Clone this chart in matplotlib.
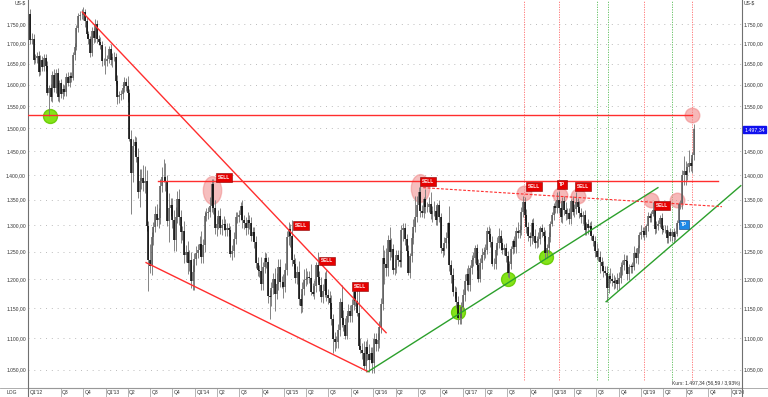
import numpy as np
import pandas as pd
import matplotlib
matplotlib.use('Agg')
import matplotlib.pyplot as plt
import matplotlib.dates as mdates
from matplotlib.path import Path
from matplotlib.transforms import Affine2D
from matplotlib.ticker import NullLocator

plt.rcParams['font.family'] = ['Liberation Sans', 'DejaVu Sans']

# gold, weekly candles, US-$ -- first week starts Mon 2012-02-27
first_open = 1775
close_2012 = [1710, 1711, 1659, 1663, 1668, 1631, 1660, 1642, 1663, 1644, 1580, 1592, 1572,
              1622, 1591, 1627, 1572, 1604, 1578, 1590, 1583, 1619, 1604, 1620, 1616, 1671, 1692,
              1740, 1770, 1773, 1772, 1780, 1757, 1724, 1712, 1676, 1731, 1714, 1751, 1712,
              1705, 1697, 1657, 1656]
up_2012 = [15, 15, 12, 12, 10, 14, 12, 10, 12, 10, 12, 8, 10, 10, 15, 10, 12, 8, 10, 12, 10, 8,
           10, 10, 10, 8, 10, 8, 8, 10, 15, 15, 8, 12, 8, 8, 10, 8, 12, 8, 10, 12, 10, 8]
dn_2012 = [12, 10, 10, 8, 12, 10, 8, 10, 10, 12, 5, 53, 10, 12, 8, 10, 10, 12, 10, 12, 10, 10,
           8, 10, 10, 6, 12, 8, 10, 10, 8, 12, 15, 10, 12, 10, 8, 12, 10, 10, 8, 10, 12, 10]

close_2013 = [1656, 1662, 1687, 1658, 1667, 1667, 1609, 1572, 1576, 1577, 1592, 1607, 1596,
              1580, 1476, 1405, 1462, 1470, 1437, 1365, 1387, 1393, 1383, 1388, 1298, 1234,
              1223, 1277, 1296, 1322, 1310, 1313, 1377, 1396, 1396, 1387, 1308, 1333, 1339,
              1310, 1272, 1315, 1352, 1315, 1286, 1288, 1244, 1250, 1230, 1234, 1197, 1213]
up_2013 = [39, 10, 8, 12, 10, 12, 10, 15, 10, 10, 12, 10, 8, 25, 10, 20, 15, 12, 10, 20, 25, 20,
           28, 30, 22, 10, 30, 10, 10, 15, 20, 20, 15, 20, 37, 29, 12, 30, 15, 15, 20, 20, 15,
           20, 15, 10, 20, 12, 20, 20, 15, 12]
dn_2013 = [30, 12, 10, 10, 15, 10, 8, 18, 15, 12, 10, 10, 12, 20, 5, 84, 20, 20, 10, 12, 30, 15,
           15, 20, 10, 54, 12, 15, 15, 10, 12, 15, 10, 12, 10, 20, 10, 40, 15, 15, 20, 20, 10,
           15, 20, 15, 15, 12, 20, 15, 12, 15]

close_2014 = [1237, 1248, 1254, 1264, 1240, 1262, 1318, 1323, 1326, 1338, 1382, 1334, 1294,
              1303, 1318, 1294, 1301, 1302, 1290, 1294, 1291, 1245, 1252, 1274, 1316, 1316,
              1320, 1337, 1310, 1305, 1294, 1310, 1305, 1280, 1287, 1268, 1230, 1216, 1215,
              1192, 1222, 1238, 1231, 1171, 1169, 1185, 1201, 1175, 1192, 1222, 1196, 1195]
up_2014 = [10, 12, 10, 15, 25, 12, 10, 10, 10, 17, 10, 10, 15, 10, 12, 15, 10, 15, 10, 10, 10, 8,
           10, 12, 10, 10, 10, 8, 12, 10, 10, 15, 10, 10, 10, 10, 12, 10, 10, 25, 10, 12, 10, 10,
           10, 10, 10, 20, 20, 15, 15, 10]
dn_2014 = [31, 12, 10, 12, 10, 10, 12, 10, 12, 10, 12, 12, 10, 15, 10, 10, 12, 10, 10, 10, 12, 5,
           10, 12, 10, 12, 10, 10, 15, 12, 12, 10, 12, 10, 10, 12, 10, 10, 10, 10, 10, 10, 10, 12,
           38, 15, 10, 30, 10, 10, 10, 10]

close_2015 = [1187, 1217, 1277, 1293, 1279, 1234, 1228, 1203, 1213, 1165, 1153, 1183, 1199,
              1201, 1205, 1203, 1178, 1175, 1188, 1225, 1205, 1190, 1169, 1179, 1201, 1173,
              1167, 1158, 1132, 1098, 1094, 1094, 1113, 1160, 1134, 1121, 1103, 1137, 1145,
              1137, 1156, 1177, 1163, 1142, 1088, 1081, 1076, 1056, 1086, 1075, 1065, 1076]
up_2015 = [15, 12, 12, 14, 10, 30, 12, 10, 10, 20, 10, 12, 20, 20, 10, 10, 25, 15, 10, 7, 25, 10,
           15, 12, 12, 15, 10, 12, 15, 8, 12, 10, 10, 8, 30, 12, 12, 5, 12, 10, 10, 14, 15, 30,
           50, 12, 12, 20, 10, 12, 15, 10]
dn_2015 = [20, 10, 10, 15, 20, 10, 10, 10, 12, 10, 12, 10, 10, 10, 10, 10, 5, 5, 10, 10, 10, 10,
           8, 10, 10, 10, 10, 10, 10, 21, 15, 10, 10, 10, 15, 10, 5, 5, 10, 10, 10, 10, 10, 5,
           5, 5, 10, 5, 10, 10, 19, 5]

close_2016 = [1060, 1098, 1090, 1097, 1118, 1157, 1239, 1227, 1221, 1271, 1250, 1255, 1217,
              1221, 1243, 1234, 1232, 1290, 1294, 1273, 1252, 1212, 1242, 1275, 1297, 1316,
              1340, 1366, 1328, 1323, 1351, 1336, 1336, 1341, 1321, 1327, 1328, 1310, 1339, 1316,
              1257, 1251, 1267, 1276, 1304, 1225, 1208, 1178, 1177, 1160, 1134, 1133, 1152]
up_2016 = [10, 10, 10, 12, 10, 10, 24, 15, 30, 10, 25, 20, 10, 15, 10, 10, 20, 10, 10, 10, 10,
           10, 5, 10, 15, 42, 18, 9, 12, 12, 5, 20, 10, 15, 25, 10, 20, 10, 5, 10, 8, 10, 10, 10,
           3, 34, 10, 12, 10, 10, 10, 10, 8]
dn_2016 = [15, 15, 10, 10, 12, 10, 10, 35, 15, 15, 15, 10, 8, 10, 10, 10, 10, 10, 20, 10, 10, 5,
           10, 10, 10, 10, 10, 10, 12, 8, 10, 12, 10, 10, 10, 15, 10, 10, 10, 10, 10, 10, 8, 10,
           10, 10, 15, 7, 10, 10, 11, 10, 10]

close_2017 = [1173, 1197, 1210, 1190, 1220, 1234, 1239, 1257, 1226, 1201, 1229, 1244, 1249,
              1254, 1288, 1284, 1268, 1228, 1228, 1254, 1267, 1280, 1266, 1254, 1256, 1242,
              1212, 1228, 1255, 1269, 1258, 1289, 1285, 1291, 1325, 1346, 1320, 1297, 1280,
              1275, 1304, 1280, 1266, 1269, 1274, 1294, 1287, 1280, 1248, 1257, 1278, 1303]
up_2017 = [10, 12, 10, 15, 5, 10, 10, 6, 8, 10, 10, 12, 10, 10, 8, 10, 10, 12, 10, 8, 10, 15, 10,
           10, 8, 10, 10, 5, 5, 5, 10, 8, 17, 10, 10, 11, 10, 12, 10, 6, 7, 10, 12, 10, 12, 5, 8,
           10, 10, 8, 8, 5]
dn_2017 = [6, 10, 15, 10, 10, 10, 10, 10, 10, 5, 5, 10, 10, 10, 8, 10, 10, 5, 10, 10, 10, 10, 12,
           8, 10, 10, 8, 10, 10, 10, 10, 10, 10, 10, 10, 10, 10, 12, 10, 15, 10, 10, 10, 10, 10,
           10, 10, 10, 12, 10, 10, 10]

close_2018 = [1320, 1338, 1333, 1350, 1333, 1316, 1347, 1330, 1322, 1324, 1312, 1347, 1325,
              1332, 1345, 1336, 1323, 1315, 1320, 1291, 1302, 1294, 1298, 1279, 1270, 1251,
              1241, 1241, 1231, 1223, 1214, 1212, 1184, 1206, 1201, 1197, 1193, 1199, 1191,
              1203, 1222, 1226, 1235, 1233, 1209, 1222, 1223, 1222, 1248, 1238, 1257, 1281]
up_2018 = [5, 5, 10, 16, 18, 10, 8, 10, 15, 10, 10, 5, 10, 10, 20, 8, 12, 10, 8, 10, 5, 10, 8, 10,
           5, 10, 15, 15, 10, 10, 10, 10, 12, 5, 15, 10, 10, 5, 12, 10, 10, 8, 10, 8, 10, 5, 5, 8,
           12, 8, 5, 5]
dn_2018 = [5, 10, 10, 10, 10, 10, 12, 10, 12, 10, 10, 10, 5, 10, 10, 10, 10, 10, 12, 10, 10, 10,
           10, 8, 10, 10, 5, 8, 20, 8, 10, 5, 24, 8, 8, 8, 10, 8, 10, 10, 10, 15, 10, 10, 10, 10,
           10, 10, 5, 8, 10, 10]

close_2019 = [1286, 1288, 1282, 1298, 1318, 1314, 1322, 1329, 1293, 1298, 1302, 1313, 1292,
              1291, 1290, 1275, 1286, 1280, 1286, 1277, 1284, 1305, 1341, 1341, 1400, 1409,
              1400, 1416, 1426, 1419, 1441, 1497.34]
up_2019 = [14, 8, 8, 5, 8, 5, 6, 17, 5, 10, 8, 7, 10, 8, 10, 10, 5, 8, 5, 8, 5, 5, 5, 8, 11, 30,
           20, 8, 26, 10, 7, 13]
dn_2019 = [8, 8, 10, 5, 10, 8, 8, 5, 10, 8, 8, 5, 8, 5, 5, 8, 8, 10, 10, 10, 5, 5, 5, 10, 10, 20,
           20, 10, 10, 10, 15, 10]

# axis values
y_levels = [1050, 1100, 1150, 1200, 1250, 1300, 1350, 1400, 1450, 1500, 1550, 1600, 1650, 1700, 1750]
quarter_starts = pd.date_range('2012-07-01', '2020-01-01', freq='QS')

# annotations (date, price)
res_level, res_span = 1530, ('2012-02-18', '2019-07-29')
mid_level, mid_span = 1388, ('2013-08-03', '2019-11-10')
down_trend = [('2012-09-27', 1781), ('2016-02-22', 1109)]
low_trend = [('2013-06-15', 1230), ('2015-12-10', 1047)]
up_trend = [('2015-12-10', 1047), ('2019-03-10', 1374)]
up_trend2 = [('2018-08-10', 1161), ('2020-02-12', 1378)]
neckline = [('2016-07-23', 1374), ('2019-11-27', 1336)]
red_vlines = ['2017-09-09', '2018-01-30', '2019-01-12', '2019-07-29']
green_vlines = ['2018-07-04', '2018-08-18', '2019-05-07']
red_dots = [('2017-09-09', 1364), ('2018-02-03', 1360), ('2018-04-17', 1357),
            ('2019-02-10', 1349), ('2019-05-27', 1349), ('2019-07-29', 1530)]
red_ovals = [('2014-03-12', 1370), ('2016-07-09', 1374)]
green_dots = [('2012-05-16', 1528), ('2016-12-14', 1144), ('2017-07-05', 1201), ('2017-12-08', 1241)]
signals = [('2014-04-30', 1395, 'SELL'), ('2015-03-11', 1299, 'SELL'), ('2015-06-25', 1233, 'SELL'),
           ('2015-11-07', 1188, 'SELL'), ('2016-08-12', 1386, 'SELL'), ('2017-10-19', 1377, 'SELL'),
           ('2018-02-11', 1380, 'TP'), ('2018-05-08', 1377, 'SELL'), ('2019-03-26', 1339, 'SELL')]
tp_blue = ('2019-06-25', 1301, 'TP')

close = np.array(close_2012 + close_2013 + close_2014 + close_2015 + close_2016 + close_2017
                 + close_2018 + close_2019, dtype=float)
up_w = np.array(up_2012 + up_2013 + up_2014 + up_2015 + up_2016 + up_2017 + up_2018 + up_2019)
dn_w = np.array(dn_2012 + dn_2013 + dn_2014 + dn_2015 + dn_2016 + dn_2017 + dn_2018 + dn_2019)
opens = np.concatenate([[first_open], close[:-1]])
hi = np.maximum(opens, close) + up_w
lo = np.minimum(opens, close) - dn_w
x = mdates.date2num(pd.date_range('2012-02-27', periods=len(close), freq='W-MON'))


def d(s):
    return mdates.datestr2num(s)


def fmt(v):
    return f"{v:,.2f}".replace(',', 'X').replace('.', ',').replace('X', '.')


fig = plt.figure(figsize=(7.68, 3.97), dpi=100)
ax = fig.add_axes([28 / 768, 9 / 397, 714 / 768, 388 / 397])
ax.set_yscale('log')
ax.set_ylim(1022, 1813)
ax.set_xlim(d('2012-02-18'), d('2020-02-17'))

# candles
rise = close >= opens
ax.vlines(x, lo, hi, color='#7a7a7a', lw=0.65, zorder=3)
ax.vlines(x[rise], opens[rise], close[rise], color='#5a5a5a', lw=1.1, zorder=3)
ax.vlines(x[~rise], opens[~rise], close[~rise], color='#000000', lw=1.1, zorder=3)

# grid
ax.set_yticks(y_levels)
ax.yaxis.set_minor_locator(NullLocator())
ax.set_yticklabels([fmt(v) for v in y_levels])
ax.tick_params(axis='y', which='both', length=0, pad=1.5, labelsize=3.6, labelleft=True,
               labelright=True, colors='#333333')
ax.set_xticks([])
ax.grid(axis='y', color='#bcbcbc', ls=(0, (1, 5)), lw=0.7)

for s in red_vlines:
    ax.plot([d(s), d(s)], [1034, 1813], color='#ff6a6a', lw=0.6, ls=(0, (1.5, 1.5)), zorder=2)
for s in green_vlines:
    ax.plot([d(s), d(s)], [1034, 1813], color='#55bb55', lw=0.6, ls=(0, (1.5, 1.5)), zorder=2)

# circles
oval = Path.unit_circle().transformed(Affine2D().scale(0.66, 1.0))
for s, p in red_ovals:
    ax.plot(d(s), p, marker=oval, ms=20, mfc='#f08a8a', mec='#f08a8a', alpha=0.55, zorder=2)
for s, p in red_dots:
    ax.plot(d(s), p, 'o', ms=10.5, mfc='#f08a8a', mec='#f08a8a', alpha=0.6, zorder=2)
for s, p in green_dots:
    ax.plot(d(s), p, 'o', ms=10, mfc='#77e000', mec='#66cc00', alpha=0.9, zorder=2)

# trend lines
red = '#ff2e2e'
ax.plot([d(res_span[0]), d(res_span[1])], [res_level, res_level], color=red, lw=1.0, zorder=4)
ax.plot([d(mid_span[0]), d(mid_span[1])], [mid_level, mid_level], color=red, lw=1.0, zorder=4)
for seg in (down_trend, low_trend):
    ax.plot([d(seg[0][0]), d(seg[1][0])], [seg[0][1], seg[1][1]], color=red, lw=1.0, zorder=4)
for seg in (up_trend, up_trend2):
    ax.plot([d(seg[0][0]), d(seg[1][0])], [seg[0][1], seg[1][1]], color='#2ca02c', lw=1.0, zorder=4)
ax.plot([d(neckline[0][0]), d(neckline[1][0])], [neckline[0][1], neckline[1][1]], color=red,
        lw=0.8, ls=(0, (2.5, 1.5)), zorder=4)

# signal boxes
for s, p, t in signals:
    ax.text(d(s), p, t, fontsize=3.4, fontweight='bold', color='white', ha='center', va='center',
            zorder=6, bbox=dict(boxstyle='square,pad=0.4', fc='#e60000', ec='#8a0000', lw=0.4))
ax.text(d(tp_blue[0]), tp_blue[1], tp_blue[2], fontsize=3.4, fontweight='bold', color='white',
        ha='center', va='center', zorder=6,
        bbox=dict(boxstyle='square,pad=0.4', fc='#1e88e5', ec='#0d3c7a', lw=0.4))

# frame
ax.spines['top'].set_visible(False)
for side in ('left', 'right', 'bottom'):
    ax.spines[side].set_color('#707070')
    ax.spines[side].set_linewidth(0.8)

xt = ax.get_xaxis_transform()
ax.vlines(mdates.date2num(quarter_starts), -9 / 388, 0, transform=xt, clip_on=False,
          color='#a8a8a8', lw=0.6)
for q in quarter_starts:
    lab = f"Q1'{q.year % 100:02d}" if q.quarter == 1 else f"Q{q.quarter}"
    ax.text(mdates.date2num(q) + 6, -4.5 / 388, lab, transform=xt, ha='left', va='center',
            fontsize=3.6, color='#333333', clip_on=False)
ax.text(d('2012-02-18') + 6, -4.5 / 388, "Q1'12", transform=xt, ha='left', va='center',
        fontsize=3.6, color='#333333', clip_on=False)
fig.add_artist(plt.Line2D([0, 1], [9 / 397, 9 / 397], color='#a0a0a0', lw=0.6))
fig.add_artist(plt.Line2D([28 / 768, 28 / 768], [0, 9 / 397], color='#707070', lw=0.8))
fig.add_artist(plt.Line2D([742 / 768, 742 / 768], [0, 9 / 397], color='#707070', lw=0.8))
fig.text(7 / 768, 4.5 / 397, 'LOG', fontsize=3.6, va='center', color='#333333')

fig.text(15 / 768, 1 - 3 / 397, 'US-$', fontsize=3.6, va='center', color='#333333')
fig.text(744 / 768, 1 - 3 / 397, 'US-$', fontsize=3.6, va='center', color='#333333')

yt = ax.get_yaxis_transform()
ax.text(1.003, close[-1], fmt(close[-1]), transform=yt, ha='left', va='center', fontsize=3.8,
        color='white', clip_on=False,
        bbox=dict(boxstyle='square,pad=0.25', fc='#1010ee', ec='#1010ee'))
ax.text(0.997, 0.011, 'Kurs: 1.497,34 (56,59 / 3,93%)', transform=ax.transAxes, ha='right',
        va='center', fontsize=3.6, color='#333333')

fig.savefig('out.png', dpi=100)
